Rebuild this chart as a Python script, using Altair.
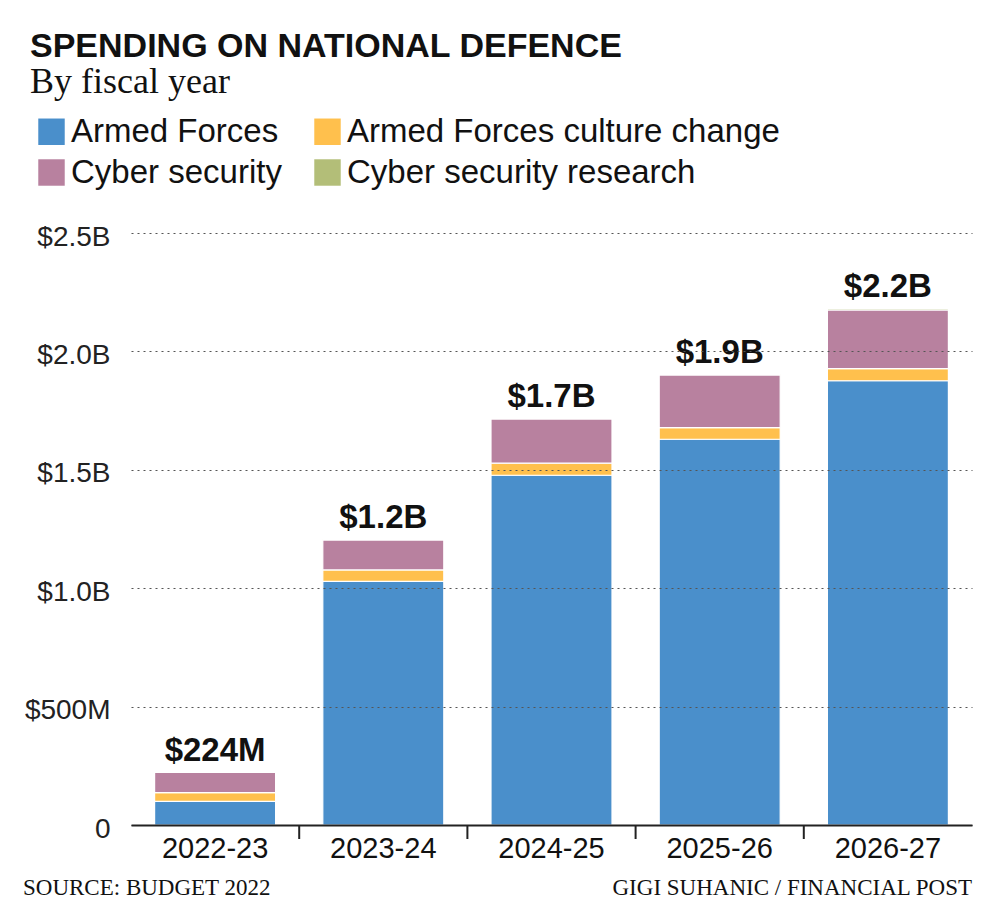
import altair as alt
import pandas as pd

# ---- data ----
YEARS = ["2022-23", "2023-24", "2024-25", "2025-26", "2026-27"]
SERIES = ["Armed Forces", "Armed Forces culture change", "Cyber security", "Cyber security research"]
COLORS = ["#4a8fcb", "#ffc04d", "#b8819f", "#b3be78"]
ARMED = [100, 1029, 1477, 1629, 1876]      # $M
CULTURE = [37, 48, 51, 49, 51]             # $M
CYBER = [85, 127, 187, 223, 248]           # $M
RESEARCH = [2, 2, 3, 4, 7]                 # $M
TOTAL_LABELS = ["$224M", "$1.2B", "$1.7B", "$1.9B", "$2.2B"]
Y_TICKS = [0, 500, 1000, 1500, 2000, 2500]
TITLE = "SPENDING ON NATIONAL DEFENCE"
SUBTITLE = "By fiscal year"
SOURCE = "SOURCE: BUDGET 2022"
CREDIT = "GIGI SUHANIC / FINANCIAL POST"

SANS = "Liberation Sans, Arial, sans-serif"
SERIF = "Liberation Serif, DejaVu Serif, serif"

W, H = 841, 592

rows = []
for i, y in enumerate(YEARS):
    for r, (s, vals) in enumerate(zip(SERIES, [ARMED, CULTURE, CYBER, RESEARCH])):
        rows.append({"year": y, "series": s, "value": vals[i], "rank": r})
df = pd.DataFrame(rows)

totals = pd.DataFrame({
    "year": YEARS,
    "total": [a + b + c + d for a, b, c, d in zip(ARMED, CULTURE, CYBER, RESEARCH)],
    "label": TOTAL_LABELS,
})
tick_df = pd.DataFrame({"year": YEARS[1:]})

x_scale = alt.Scale(domain=YEARS, paddingInner=0, paddingOuter=0)

bars = alt.Chart(df).mark_bar(size=121, stroke="white", strokeWidth=1.2).encode(
    x=alt.X("year:N", sort=YEARS, scale=x_scale,
            axis=alt.Axis(title=None, labelAngle=0, ticks=False, domainColor="#222",
                          domainWidth=2, labelFont=SANS, labelFontSize=29,
                          labelColor="#111", labelPadding=9, zindex=2)),
    y=alt.Y("value:Q", stack="zero",
            scale=alt.Scale(domain=[0, 2500], nice=False),
            axis=alt.Axis(title=None, values=Y_TICKS, domain=False, ticks=False,
                          grid=True, gridDash=[2, 4], gridColor="#555", gridWidth=1.2,
                          labelExpr="datum.value == 0 ? '0' : (datum.value < 1000 ? '$' + datum.value + 'M' : '$' + format(datum.value / 1000, '.1f') + 'B')",
                          labelFont=SANS, labelFontSize=28, labelColor="#222",
                          labelPadding=21, labelBaseline="middle", labelOffset=4,
                          zindex=1)),
    color=alt.Color("series:N", scale=alt.Scale(domain=SERIES, range=COLORS),
                    legend=alt.Legend(title=None, orient="none", legendX=-96, legendY=-118,
                                      direction="horizontal", columns=2,
                                      symbolType="square", symbolSize=700,
                                      symbolStrokeWidth=0, symbolOpacity=1,
                                      labelFont=SANS, labelFontSize=33, labelColor="#111",
                                      labelOffset=3, columnPadding=29, rowPadding=7,
                                      padding=0, labelLimit=0)),
    order=alt.Order("rank:Q", sort="ascending"),
)

ticks = alt.Chart(tick_df).mark_rule(color="#222", strokeWidth=2).encode(
    x=alt.X("year:N", sort=YEARS, bandPosition=0),
    y=alt.value(H), y2=alt.value(H + 14),
)

labels = alt.Chart(totals).mark_text(font=SANS, fontWeight="bold", fontSize=33,
                                     baseline="alphabetic", dy=-11, color="#111").encode(
    x=alt.X("year:N", sort=YEARS),
    y=alt.Y("total:Q"),
    text="label:N",
)


def txt(s, x, y, **kw):
    return alt.Chart(pd.DataFrame({"t": [s]})).mark_text(**kw).encode(
        x=alt.value(x), y=alt.value(y), text="t:N")


title = txt(TITLE, -101, -176, font=SANS, fontWeight="bold", fontSize=34,
            align="left", baseline="alphabetic", color="#111")
subtitle = txt(SUBTITLE, -101, -140, font=SERIF, fontSize=36,
               align="left", baseline="alphabetic", color="#111")
source = txt(SOURCE, -108, 662, font=SERIF, fontSize=23,
             align="left", baseline="alphabetic", color="#111")
credit = txt(CREDIT, W, 662, font=SERIF, fontSize=23,
             align="right", baseline="alphabetic", color="#111")

chart = alt.layer(bars, ticks, labels, title, subtitle, source, credit).properties(
    width=W, height=H,
    autosize=alt.AutoSizeParams(type="none"),
    padding={"left": 131, "top": 233, "right": 29, "bottom": 96},
).configure_view(stroke=None)

chart.save("out.html", embed_options={"renderer": "svg", "actions": False})
